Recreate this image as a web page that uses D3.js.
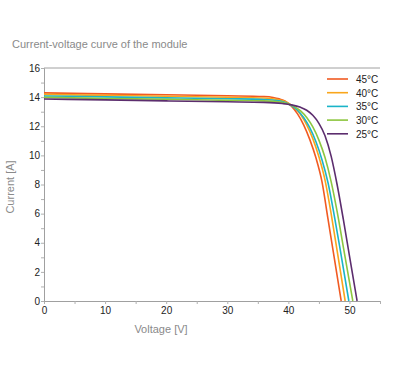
<!DOCTYPE html>
<html><head><meta charset="utf-8">
<script src="https://cdn.jsdelivr.net/npm/d3@7"></script>
<style>
body{margin:0;background:#fff;}
svg{display:block;}
.lbl{font-family:"Liberation Sans",Arial,sans-serif;fill:#8a8a8a;}
.tk{font-family:"Liberation Sans Narrow","Liberation Sans",Arial,sans-serif;fill:#222;font-size:10px;}
</style></head>
<body>
<script>
const title = "Current-voltage curve of the module";
const xTicks = [0,10,20,30,40,50];
const yTicks = [0,2,4,6,8,10,12,14,16];
const temps = ["45°C","40°C","35°C","30°C","25°C"];
const colors = ["#f15a22","#f9a61c","#1ab4c8","#8dc63f","#5c2d6e"];

const v45 = [0,10,20,30,36,37.5,38.5,39.5,40.5,41.5,42.5,43.5,44.5,45.5,46.5,47.5,48.65];
const i45 = [14.29,14.22,14.16,14.09,14.04,13.98,13.88,13.72,13.38,12.85,12.1,11.1,9.85,8.2,5.6,3.0,0];
const v40 = [0,10,20,30,36,38,39,40,41,42,43,44,45,46,47,48,49.3];
const i40 = [14.19,14.12,14.06,13.99,13.94,13.86,13.76,13.58,13.28,12.8,12.1,11.15,9.9,8.3,6.0,3.4,0];
const v35 = [0,10,20,30,36,38.5,39.5,40.5,41.5,42.5,43.5,44.5,45.5,46.5,47.5,48.5,49.9];
const i35 = [14.08,14.02,13.95,13.89,13.84,13.75,13.63,13.42,13.1,12.6,11.9,10.95,9.7,8.1,5.9,3.5,0];
const v30 = [0,10,20,30,36,39,40,41,42,43,44,45,46,47,48,49,50.55];
const i30 = [13.98,13.91,13.85,13.78,13.74,13.64,13.53,13.35,13.05,12.6,11.95,11.05,9.85,8.2,6.1,3.7,0];
const v25 = [0,10,20,30,36,39,40.5,42,43,44,45,46,47,48,49,50,51.25];
const i25 = [13.87,13.81,13.74,13.68,13.64,13.56,13.47,13.3,13.1,12.75,12.2,11.35,9.95,7.95,5.6,3.1,0];

const series = [[v45,i45],[v40,i40],[v35,i35],[v30,i30],[v25,i25]];

const W=400,H=380;
const svg = d3.select("body").append("svg").attr("width",W).attr("height",H);
const x = d3.scaleLinear().domain([0,55]).range([44,380]);
const y = d3.scaleLinear().domain([0,16]).range([301,68]);

svg.append("text").attr("class","lbl").attr("x",12).attr("y",48).attr("font-size","11px").text(title);

// top frame line
svg.append("line").attr("x1",x(0)).attr("x2",x(55)).attr("y1",y(16)).attr("y2",y(16)).attr("stroke","#a0a0a0").attr("stroke-width",1);

// axes
const xAx = svg.append("g").attr("transform",`translate(0,${y(0)})`)
  .call(d3.axisBottom(x).tickValues(d3.range(0,56,5)).tickSize(3).tickFormat(d=>xTicks.includes(d)?d:""));
const yAx = svg.append("g").attr("transform",`translate(${x(0)},0)`)
  .call(d3.axisLeft(y).tickValues(d3.range(0,17,1)).tickSize(3).tickFormat(d=>yTicks.includes(d)?d:""));
[xAx,yAx].forEach(g=>{
  g.select(".domain").attr("stroke","#a0a0a0");
  g.selectAll(".tick line").attr("stroke","#b0b0b0");
  g.selectAll("text").attr("class","tk").attr("fill","#222");
});
xAx.selectAll("text").attr("dy","0.95em").attr("y",3);
yAx.selectAll("text").attr("x",-4);

// curves
const line = d3.line().x(d=>x(d[0])).y(d=>y(d[1])).curve(d3.curveMonotoneX);
series.forEach((s,k)=>{
  const pts = s[0].map((v,j)=>[v,s[1][j]]);
  svg.append("path").datum(pts).attr("d",line).attr("fill","none")
    .attr("stroke",colors[k]).attr("stroke-width",1.6);
});

// legend
const lg = svg.append("g");
temps.forEach((t,k)=>{
  const yy = 79 + k*13.7;
  lg.append("line").attr("x1",327).attr("x2",348).attr("y1",yy).attr("y2",yy).attr("stroke",colors[k]).attr("stroke-width",1.6);
  lg.append("text").attr("class","tk").attr("x",356).attr("y",yy+4).attr("font-size","11px").text(t);
});

// axis titles
svg.append("text").attr("class","lbl").attr("font-size","11px").attr("text-anchor","middle")
  .attr("transform","translate(14,187) rotate(-90)").text("Current [A]");
svg.append("text").attr("class","lbl").attr("font-size","11px").attr("text-anchor","middle")
  .attr("x",161).attr("y",333).text("Voltage [V]");
</script>
</body></html>
